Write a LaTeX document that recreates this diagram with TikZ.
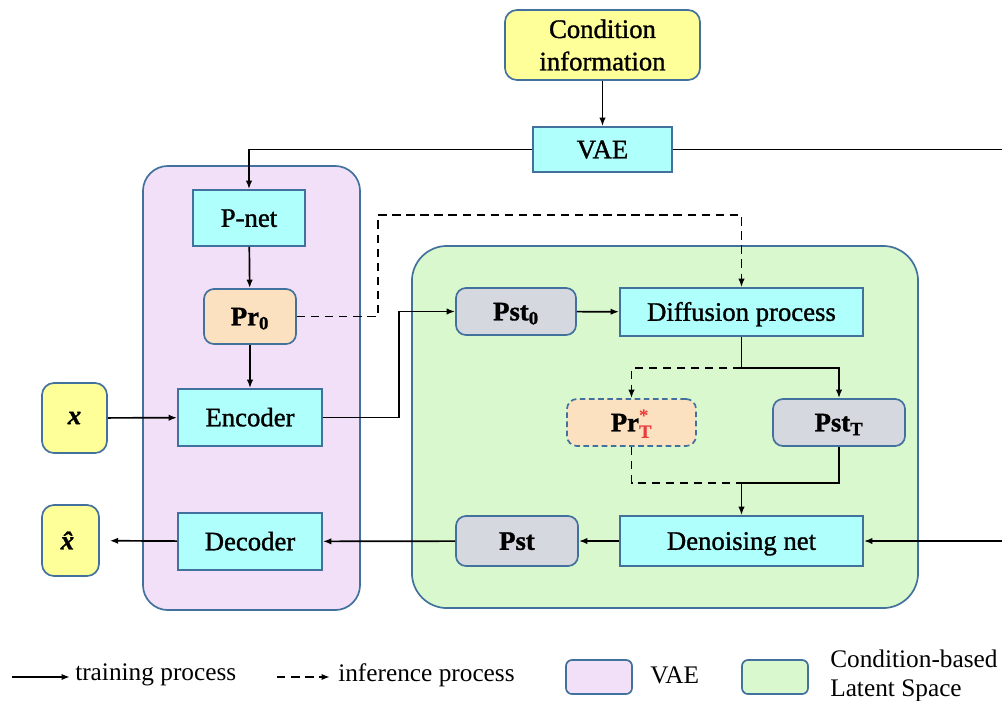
\documentclass[tikz,border=0pt]{standalone}
\usepackage{fontspec}
\usepackage{amsmath}
\setmainfont{Liberation Serif}
\newfontfamily\medfont[FakeBold=1.2]{Liberation Serif}
\usetikzlibrary{arrows.meta}
\definecolor{bd}{RGB}{65,113,156}
\definecolor{cyanf}{RGB}{175,255,252}
\definecolor{yelf}{RGB}{255,255,153}
\definecolor{lavf}{RGB}{242,224,249}
\definecolor{grnf}{RGB}{218,248,206}
\definecolor{peachf}{RGB}{252,225,193}
\definecolor{grayf}{RGB}{213,216,222}
\definecolor{redT}{RGB}{232,62,62}
\tikzset{
  basebox/.style={draw=bd, line width=1.2pt, inner sep=0pt, align=center, font=\fontsize{19}{23}\selectfont\medfont},
  oneline/.style={text height=12.5pt, text depth=0pt},
  cbox/.style={basebox, fill=cyanf},
  ybox/.style={basebox, fill=yelf, rounded corners=0.3cm},
  pbox/.style={basebox, oneline, fill=peachf, rounded corners=0.25cm},
  gbox/.style={basebox, oneline, fill=grayf, rounded corners=0.25cm},
  region/.style={draw=bd, line width=1.2pt, inner sep=0pt},
  arr/.style={line width=1.2pt, -{Latex[length=6pt,width=4.5pt]}},
  darr/.style={arr, dash pattern=on 6pt off 4pt},
  plainline/.style={line width=1.2pt},
  dline/.style={line width=1.2pt, dash pattern=on 6pt off 4pt},
  legtext/.style={anchor=west, inner sep=0pt, align=left, font=\fontsize{18}{20.5}\selectfont}
}
\begin{document}
\begin{tikzpicture}[x=0.025cm,y=-0.025cm]
\useasboundingbox (0,0) rectangle (1002,700);
% regions
\node[region, fill=lavf, rounded corners=0.625cm, minimum width=5.425cm, minimum height=11.1cm] (vaereg) at (251.5,388) {};
\node[region, fill=grnf, rounded corners=0.875cm, minimum width=12.65cm, minimum height=9.05cm] (latreg) at (665,427) {};
% nodes
\node[ybox, minimum width=4.875cm, minimum height=1.75cm] (cond) at (602.5,45) {Condition\\information};
\node[cbox, oneline, minimum width=3.475cm, minimum height=1.125cm] (vae) at (602.5,149.5) {VAE};
\node[cbox, oneline, minimum width=2.8cm, minimum height=1.4cm] (pnet) at (249,218) {P-net};
\node[pbox, minimum width=2.3cm, minimum height=1.375cm] (pr0) at (250,316.5) {$\text{\textbf{Pr}}_{\text{\textbf{0}}}$};
\node[cbox, oneline, minimum width=3.6cm, minimum height=1.425cm] (enc) at (250,417.5) {Encoder};
\node[cbox, oneline, minimum width=3.6cm, minimum height=1.425cm] (dec) at (250,541.5) {Decoder};
\node[ybox, minimum width=1.625cm, minimum height=1.75cm] (x) at (74.5,418) {\textbf{\textit{x}}};
\node[ybox, minimum width=1.425cm, minimum height=1.775cm] (xh) at (70.5,540.5) {\textbf{\textit{\^{x}}}};
\node[gbox, minimum width=3.0cm, minimum height=1.175cm] (pst0) at (516,311.5) {$\text{\textbf{Pst}}_{\text{\textbf{0}}}$};
\node[cbox, oneline, minimum width=6.075cm, minimum height=1.2cm] (diff) at (741.5,312) {Diffusion process};
\node[pbox, dash pattern=on 4pt off 2.5pt, minimum width=3.225cm, minimum height=1.175cm] (prt) at (631.5,422.5) {$\text{\textbf{Pr}}^{\text{\color{redT}*}}_{\text{\color{redT}\textbf{T}}}$};
\node[gbox, minimum width=3.3cm, minimum height=1.175cm] (pstt) at (839,422.5) {$\text{\textbf{Pst}}_{\text{\textbf{T}}}$};
\node[cbox, oneline, minimum width=6.075cm, minimum height=1.25cm] (den) at (741.5,541) {Denoising net};
\node[gbox, minimum width=3.05cm, minimum height=1.25cm] (pst) at (517,541) {\textbf{Pst}};
% helper coordinates
\coordinate (split) at (741.5,368);
\coordinate (merge) at (741.5,483);
\coordinate (rt) at (1008,149.5);
\coordinate (rb) at (1008,541);
% connectors
\draw[arr] (cond) -- (vae);
\draw[arr] (vae.west) -| (pnet.north);
\draw[arr] (vae.east) -- (rt) -- (rb) -- (den.east);
\draw[arr] (pnet) -- (pr0);
\draw[arr] (pr0) -- (enc);
\draw[arr] (x) -- (enc);
\draw[arr, shorten >=7pt] (dec) -- (xh);
\draw[arr] (enc.east) -- ++(76,0) |- (pst0.west);
\draw[arr] (pst0) -- (diff);
\draw[darr] (pr0.east) -| (378,215) -| (diff.north);
\draw[plainline] (diff.south) -- (split);
\draw[darr] (split) -| (prt.north);
\draw[arr] (split) -| (pstt.north);
\draw[dline] (prt.south) |- (merge);
\draw[plainline] (pstt.south) |- (merge);
\draw[arr] (merge) -- (den.north);
\draw[arr] (den) -- (pst);
\draw[arr] (pst) -- (dec);
% legend
\coordinate (l1a) at (12,677);
\coordinate (l1b) at (70,677);
\coordinate (l2a) at (277,677);
\coordinate (l2b) at (330,677);
\draw[arr] (l1a) -- (l1b);
\node[legtext] (lt1) at (75,675) {training process};
\draw[darr] (l2a) -- (l2b);
\node[legtext] (lt2) at (338,675) {inference process};
\node[region, fill=lavf, rounded corners=0.15cm, minimum width=1.65cm, minimum height=0.85cm] (lbox1) at (599,677) {};
\node[legtext] (lt3) at (650,675) {VAE};
\node[region, fill=grnf, rounded corners=0.15cm, minimum width=1.65cm, minimum height=0.85cm] (lbox2) at (775,677) {};
\node[legtext] (lt4) at (830,676) {Condition-based\\Latent Space};
\end{tikzpicture}
\end{document}
